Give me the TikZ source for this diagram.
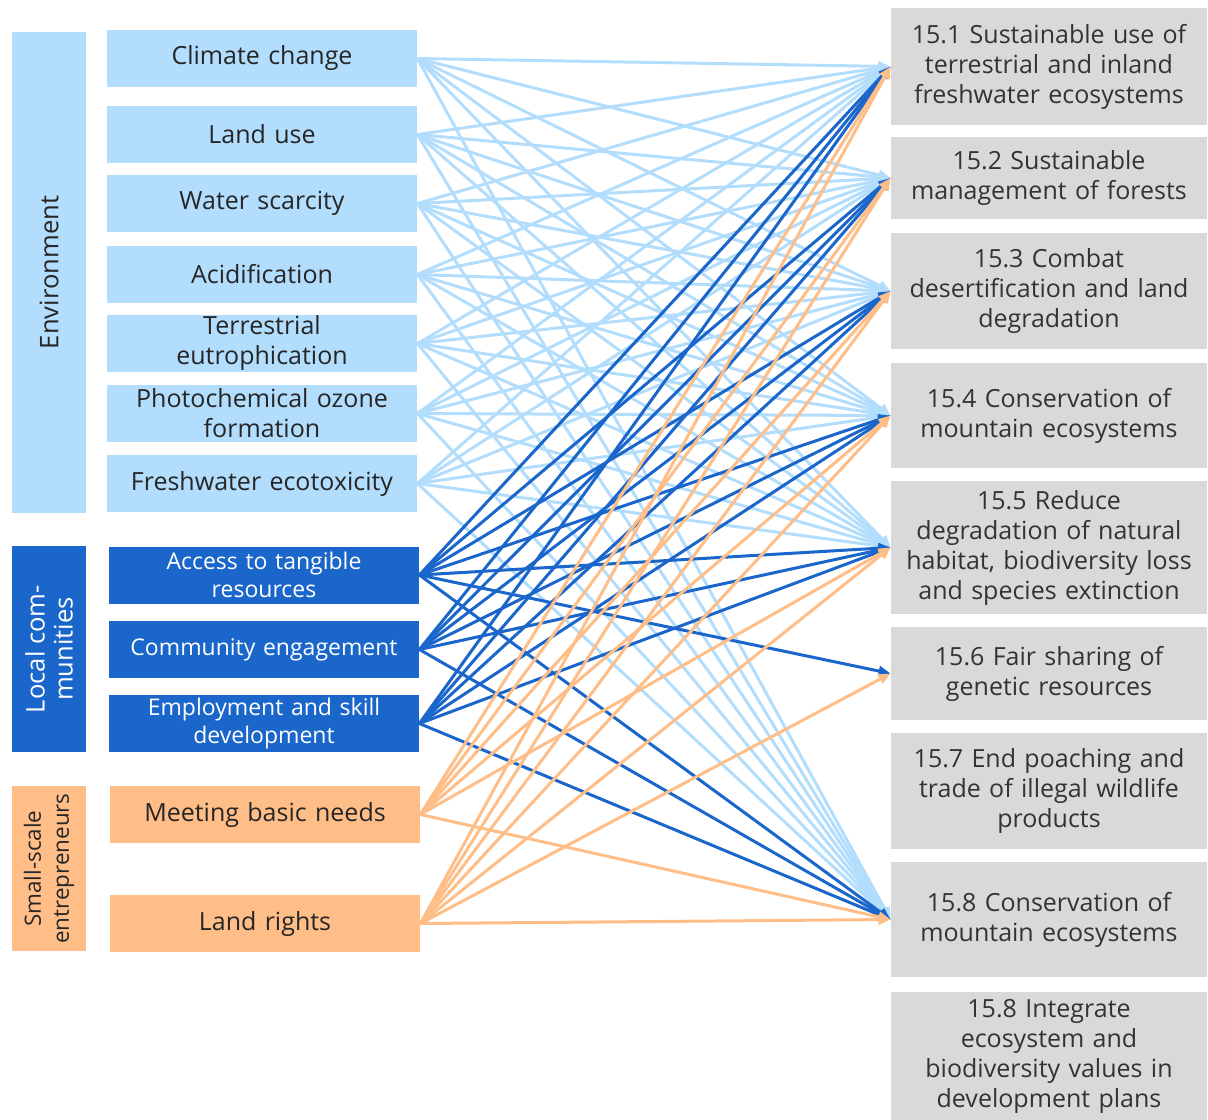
\documentclass[tikz,border=0pt]{standalone}
\usepackage{fontspec}
\setmainfont{Open Sans}
\usetikzlibrary{arrows.meta}
\definecolor{envblue}{HTML}{B3DDFD}
\definecolor{locblue}{HTML}{1A66CA}
\definecolor{smorange}{HTML}{FFBE88}
\definecolor{sdggray}{HTML}{D9D9D9}
\definecolor{txtgray}{HTML}{333333}
\begin{document}
\begin{tikzpicture}[x=0.5pt, y=-0.5pt, font=\fontsize{12.5}{15}\selectfont, line join=round, >={Triangle[length=6pt,width=5pt]},
	src/.style={minimum width=155pt, minimum height=28.5pt, inner sep=0pt, align=center, text width=154pt},
	grp/.style={rotate=90, minimum height=37pt, inner sep=0pt, align=center},
	sdg/.style={fill=sdggray, text=txtgray, minimum width=158pt, inner sep=0pt, align=center, text width=156pt},
	lnk/.style={->, line width=1.5pt}]
	\useasboundingbox (0,0) rectangle (1208,1119);
	\node[grp, fill=envblue, text=black!85, minimum width=240.5pt, font=\fontsize{12.8}{14}\selectfont] (env) at (49,272.5) {Environment};
	\node[grp, fill=locblue, text=white, minimum width=103pt, font=\fontsize{12.8}{14}\selectfont] (loc) at (49,649) {Local com-\\munities};
	\node[grp, fill=smorange, text=black!85, minimum width=82.5pt, font=\fontsize{11.2}{14}\selectfont] (sme) at (49,868.5) {Small-scale\\entrepreneurs};
	\foreach \n/\y/\txt in {clim/58.5/Climate change, landuse/134.5/Land use, water/203.5/Water scarcity, acid/274.5/Acidification, eutro/343.5/{Terrestrial\\eutrophication}, ozone/413.5/{Photochemical ozone\\formation}, fresh/483.5/Freshwater ecotoxicity}
		\node[src, fill=envblue, text=black!85] (\n) at (262,\y) {\txt};
	\foreach \n/\y/\txt in {access/575/{Access to tangible\\resources}, commu/649.5/Community engagement, employ/723.5/{Employment and skill\\development}}
		\node[src, fill=locblue, text=white, font=\fontsize{11.5}{14}\selectfont] (\n) at (264,\y) {\txt};
	\foreach \n/\y/\txt in {needs/814.5/Meeting basic needs, rights/923.5/Land rights}
		\node[src, fill=smorange, text=black!85] (\n) at (265,\y) {\txt};
	\foreach \n/\y/\h/\txt in {sdg1/66.5/58.5/{15.1 Sustainable use of\\terrestrial and inland\\freshwater ecosystems}, sdg2/178/41/{15.2 Sustainable\\management of forests}, sdg3/291/58/{15.3 Combat\\desertification and land\\degradation}, sdg4/415.5/52.5/{15.4 Conservation of\\mountain ecosystems}, sdg5/547.5/66.5/{15.5 Reduce\\degradation of natural\\habitat, biodiversity loss\\and species extinction}, sdg6/673.5/46.5/{15.6 Fair sharing of\\genetic resources}, sdg7/791/58/{15.7 End poaching and\\trade of illegal wildlife\\products}, sdg8/919.5/57.5/{15.8 Conservation of\\mountain ecosystems}, sdg9/1056/64/{15.8 Integrate\\ecosystem and\\biodiversity values in\\development plans}}
		\node[sdg, minimum height=\h pt] (\n) at (1049,\y) {\txt};
	\foreach \s in {clim,landuse,water,acid,eutro,ozone,fresh}
		\foreach \t in {sdg1,sdg2,sdg3,sdg4,sdg5,sdg8}
			\draw[lnk, envblue] (\s.east) -- (\t.west);
	\foreach \s/\t in {access/sdg1,access/sdg2,access/sdg3,access/sdg4,access/sdg5,access/sdg6,access/sdg8,commu/sdg1,commu/sdg2,commu/sdg3,commu/sdg4,commu/sdg5,commu/sdg8,employ/sdg1,employ/sdg2,employ/sdg3,employ/sdg4,employ/sdg5,employ/sdg8}
		\draw[lnk, locblue] (\s.east) -- (\t.west);
	\foreach \s/\t in {needs/sdg1,needs/sdg2,needs/sdg3,needs/sdg4,needs/sdg5,needs/sdg8,rights/sdg1,rights/sdg2,rights/sdg3,rights/sdg4,rights/sdg5,rights/sdg6,rights/sdg8}
		\draw[lnk, smorange] (\s.east) -- (\t.west);
\end{tikzpicture}
\end{document}
